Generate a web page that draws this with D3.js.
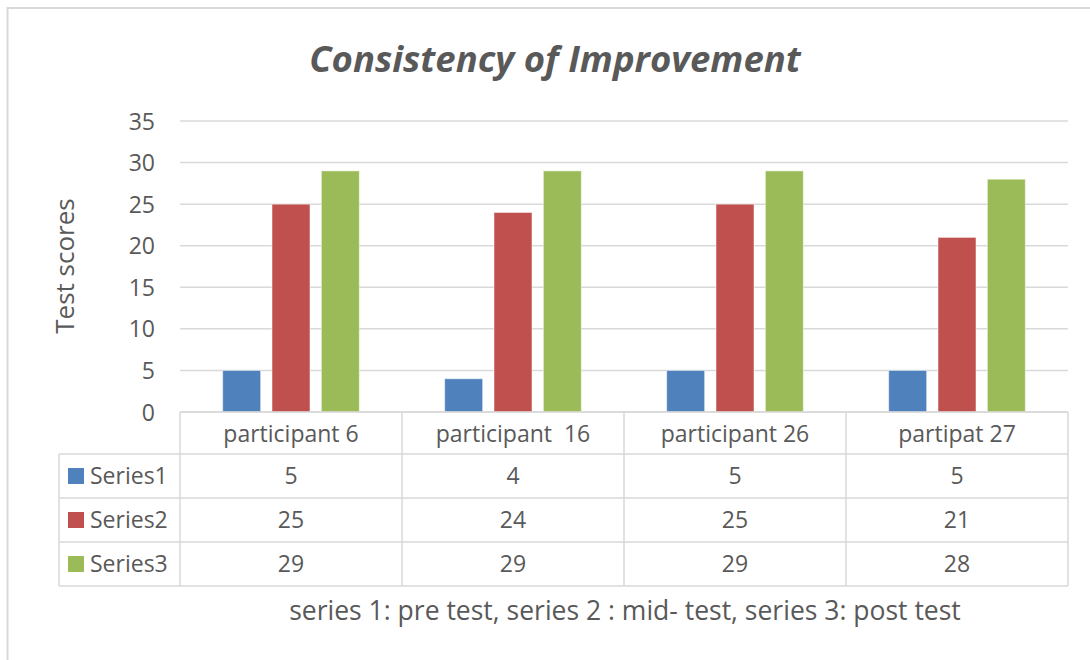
<!DOCTYPE html>
<html>
<head>
<meta charset="utf-8">
<script src="https://cdn.jsdelivr.net/npm/d3@7"></script>
<style>
  body { margin: 0; background: #fff; }
  text { font-family: "Open Sans", "Noto Sans", sans-serif; fill: #595959; }
</style>
</head>
<body>
<svg id="chart" width="1090" height="660"></svg>
<script>
var categories = ["participant 6", "participant  16", "participant 26", "partipat 27"];
var seriesNames = ["Series1", "Series2", "Series3"];
var series1 = [5, 4, 5, 5];
var series2 = [25, 24, 25, 21];
var series3 = [29, 29, 29, 28];
var yTicks = [0, 5, 10, 15, 20, 25, 30, 35];
var colors = ["#4f81bd", "#c0504d", "#9bbb59"];

var values = [series1, series2, series3];

var svg = d3.select("#chart"),
    plotLeft = 180,
    plotRight = 1068,
    plotTop = 121,
    plotBottom = 412,
    rowH = 44;

// outer frame
svg.append("rect")
    .attr("x", 7.5).attr("y", 8)
    .attr("width", 1200).attr("height", 800)
    .attr("fill", "#fff")
    .attr("stroke", "#d9d9d9").attr("stroke-width", 2);

var xScale = d3.scaleBand().domain(categories).range([plotLeft, plotRight]);
var xInner = d3.scaleBand().domain(seriesNames).range([0, xScale.bandwidth()])
    .paddingInner(0.23).paddingOuter(0.865);
var yScale = d3.scaleLinear().domain([0, 35]).range([plotBottom, plotTop]);

// title
svg.append("text")
    .attr("x", 555).attr("y", 72)
    .attr("text-anchor", "middle")
    .attr("font-size", "36.5px")
    .attr("font-weight", "bold")
    .attr("font-style", "italic")
    .text("Consistency of Improvement");

// gridlines
svg.append("g")
    .selectAll("line")
    .data(yTicks)
    .enter()
    .append("line")
    .attr("x1", plotLeft).attr("x2", plotRight)
    .attr("y1", function (d) { return yScale(d); })
    .attr("y2", function (d) { return yScale(d); })
    .attr("stroke", "#d9d9d9").attr("stroke-width", 1.5);

// y axis
var yAxis = svg.append("g")
    .attr("transform", "translate(" + (plotLeft - 25) + ",0)")
    .call(d3.axisLeft(yScale).tickValues(yTicks).tickSize(0).tickPadding(0));
yAxis.select(".domain").remove();
yAxis.selectAll("text")
    .attr("font-size", "23px")
    .attr("fill", "#595959")
    .attr("font-family", "\"Open Sans\", sans-serif")
    .attr("dy", "0.35em");

svg.append("text")
    .attr("transform", "translate(74,266) rotate(-90)")
    .attr("text-anchor", "middle")
    .attr("font-size", "26px")
    .text("Test scores");

// bars
var groups = svg.selectAll(".grp")
    .data(categories)
    .enter()
    .append("g")
    .attr("class", "grp")
    .attr("transform", function (d) { return "translate(" + xScale(d) + ",0)"; });

groups.selectAll("rect")
    .data(function (d, i) {
        return seriesNames.map(function (s, j) { return { s: s, v: values[j][i], c: colors[j] }; });
    })
    .enter()
    .append("rect")
    .attr("x", function (d) { return xInner(d.s); })
    .attr("y", function (d) { return yScale(d.v); })
    .attr("width", xInner.bandwidth())
    .attr("height", function (d) { return plotBottom - yScale(d.v); })
    .attr("fill", function (d) { return d.c; })
    .attr("stroke", "#fff").attr("stroke-opacity", 0.5);

// data table
var tableLeft = 59;
var table = svg.append("g").attr("stroke", "#d9d9d9").attr("stroke-width", 1.5);
table.append("line").attr("x1", plotLeft).attr("x2", plotRight).attr("y1", plotBottom).attr("y2", plotBottom);
for (var r = 1; r <= 4; r++) {
    table.append("line")
        .attr("x1", tableLeft).attr("x2", plotRight)
        .attr("y1", plotBottom + 42 + (r - 1) * rowH)
        .attr("y2", plotBottom + 42 + (r - 1) * rowH);
}
var tableBottom = plotBottom + 42 + 3 * rowH;
table.append("line").attr("x1", tableLeft).attr("x2", tableLeft)
    .attr("y1", plotBottom + 42).attr("y2", tableBottom);
categories.concat(["end"]).forEach(function (c, i) {
    var x = i < categories.length ? xScale(c) : plotRight;
    table.append("line").attr("x1", x).attr("x2", x).attr("y1", plotBottom).attr("y2", tableBottom);
});

// header labels
svg.selectAll(".cat")
    .data(categories)
    .enter()
    .append("text")
    .attr("class", "cat")
    .attr("x", function (d) { return xScale(d) + xScale.bandwidth() / 2; })
    .attr("y", plotBottom + 22)
    .attr("dy", "0.35em")
    .attr("text-anchor", "middle")
    .attr("font-size", "23px")
    .style("white-space", "pre")
    .text(function (d) { return d; });

// rows
seriesNames.forEach(function (s, j) {
    var cy = plotBottom + 42 + j * rowH + rowH / 2;
    svg.append("rect")
        .attr("x", 68).attr("y", cy - 8)
        .attr("width", 16).attr("height", 16)
        .attr("fill", colors[j]);
    svg.append("text")
        .attr("x", 90).attr("y", cy)
        .attr("dy", "0.35em")
        .attr("font-size", "23px")
        .text(s);
    svg.selectAll(".v" + j)
        .data(values[j])
        .enter()
        .append("text")
        .attr("x", function (d, i) { return xScale(categories[i]) + xScale.bandwidth() / 2; })
        .attr("y", cy)
        .attr("dy", "0.35em")
        .attr("text-anchor", "middle")
        .attr("font-size", "23px")
        .text(function (d) { return d; });
});

// footer note
svg.append("text")
    .attr("x", 625).attr("y", 611)
    .attr("dy", "0.35em")
    .attr("text-anchor", "middle")
    .attr("font-size", "26.5px")
    .text("series 1: pre test, series 2 : mid- test, series 3: post test");
</script>
</body>
</html>
